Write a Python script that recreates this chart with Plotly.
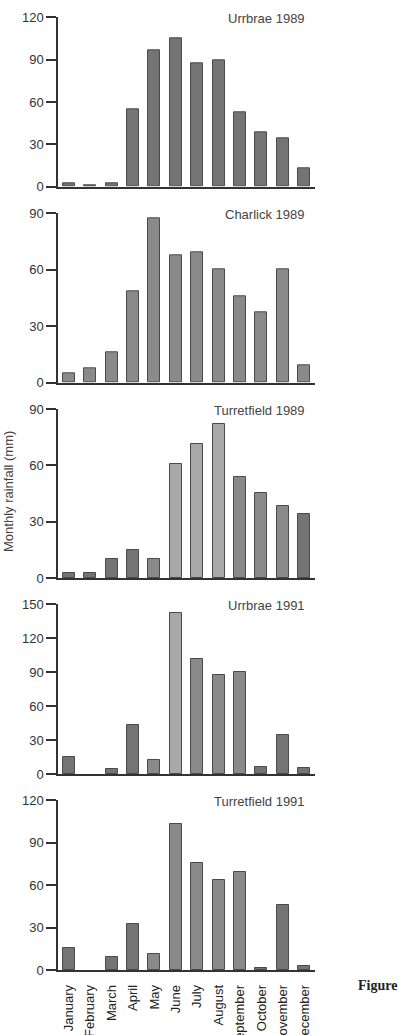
import plotly.graph_objects as go

months = ["January", "February", "March", "April", "May", "June", "July",
          "August", "September", "October", "November", "December"]

urrbrae_1989 = [2.4, 1.2, 2.1, 54.8, 96.9, 105.0, 87.4, 89.5, 52.4, 38.5, 34.5, 13.0]
charlick_1989 = [4.8, 7.6, 15.9, 48.6, 87.2, 67.5, 69.3, 60.2, 45.9, 37.4, 60.2, 9.0]
turretfield_1989 = [2.7, 2.7, 10.3, 15.1, 10.1, 60.6, 71.6, 81.9, 54.0, 45.5, 38.3, 34.0]
urrbrae_1991 = [14.7, 0.0, 4.1, 42.9, 12.1, 141.8, 101.8, 87.4, 90.3, 6.5, 34.7, 5.0]
turretfield_1991 = [15.7, 0.0, 9.4, 32.5, 11.1, 103.0, 75.3, 63.8, 69.0, 1.2, 45.9, 3.0]

panel_titles = ["Urrbrae 1989", "Charlick 1989", "Turretfield 1989",
                "Urrbrae 1991", "Turretfield 1991"]
panel_ymax = [120, 90, 90, 150, 120]
panel_ticks = [[0, 30, 60, 90, 120], [0, 30, 60, 90], [0, 30, 60, 90],
               [0, 30, 60, 90, 120, 150], [0, 30, 60, 90, 120]]
series = [urrbrae_1989, charlick_1989, turretfield_1989, urrbrae_1991, turretfield_1991]

# styling (pixel layout)
W, H = 399, 1035
panel_px = [(17.3, 186.7), (213.3, 382.7), (409.0, 578.3), (604.0, 774.0), (800.0, 970.0)]
x_px = (58, 315)
dark = "#747474"
mid = "#8a8a8a"
light = "#a8a8a8"
panel_colors = [
    [dark] * 12,
    [mid] * 12,
    [dark, dark, dark, dark, mid, light, light, light, mid, mid, mid, dark],
    [dark, dark, dark, dark, mid, light, mid, mid, mid, dark, dark, dark],
    [dark, dark, dark, dark, mid, mid, mid, mid, mid, dark, dark, dark],
]

FONT = "Liberation Sans, Arial, Helvetica, sans-serif"
AX = "#333333"

fig = go.Figure()
annotations = []
for i, (vals, title, ymax, ticks) in enumerate(zip(series, panel_titles, panel_ymax, panel_ticks)):
    n = "" if i == 0 else str(i + 1)
    fig.add_trace(go.Bar(
        x=list(range(12)), y=vals, width=0.56,
        marker=dict(color=panel_colors[i],
                    line=dict(color="#4a4a4a", width=[1 if v > 0 else 0 for v in vals])),
        xaxis="x" + n, yaxis="y" + n, showlegend=False,
    ))
    top, bot = panel_px[i]
    ydom = [1 - bot / H, 1 - top / H]
    last = i == 4
    fig.update_layout(**{
        "xaxis" + n: dict(
            domain=[x_px[0] / W, x_px[1] / W], range=[-0.5, 11.5],
            anchor="y" + n, showline=True, linecolor=AX, linewidth=1.5,
            showgrid=False, zeroline=False, ticks="", automargin=False,
            tickmode="array", tickvals=list(range(12)),
            ticktext=months if last else [""] * 12,
            showticklabels=last, tickangle=-90, ticklabelstandoff=8,
            tickfont=dict(family=FONT, size=13, color="#222"),
        ),
        "yaxis" + n: dict(
            domain=ydom, range=[0, ymax], anchor="x" + n,
            showline=True, linecolor=AX, linewidth=1.5, automargin=False,
            showgrid=False, zeroline=False,
            ticks="outside", ticklen=10, tickwidth=1.5, tickcolor=AX,
            tickmode="array", tickvals=ticks,
            tickfont=dict(family=FONT, size=13, color="#333"),
        ),
    })
    annotations.append(dict(
        text=title, xref="paper", yref="paper", x=307 / W, y=1 - (top + 1) / H,
        xanchor="right", yanchor="middle", showarrow=False,
        font=dict(family=FONT, size=13, color="#444"),
    ))

annotations.append(dict(
    text="Monthly rainfall (mm)", xref="paper", yref="paper", x=8 / W, y=1 - 492 / H,
    xanchor="center", yanchor="middle", textangle=-90, showarrow=False,
    font=dict(family=FONT, size=13, color="#444"),
))
annotations.append(dict(
    text="<b>Figure</b>", xref="paper", yref="paper", x=356 / W, y=1 - 985 / H,
    xanchor="left", yanchor="middle", showarrow=False,
    font=dict(family="Liberation Serif, Times New Roman, serif", size=14, color="#222"),
))

fig.update_layout(
    width=W, height=H, margin=dict(l=0, r=0, t=0, b=0, autoexpand=False),
    paper_bgcolor="white", plot_bgcolor="white",
    annotations=annotations, bargap=0,
)

fig.write_html("out.html")
